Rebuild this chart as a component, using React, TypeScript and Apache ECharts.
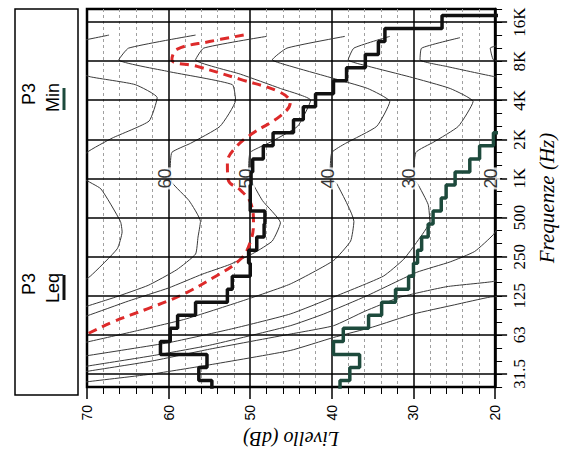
import React, { useEffect, useRef } from "react";
import * as echarts from "echarts";

// 1/3-octave band index: 0 = 25 Hz ... 29 = 20 kHz
const octaveIdx = [1, 4, 7, 10, 13, 16, 19, 22, 25, 28];
const octaveLabels = ["31.5", "63", "125", "250", "500", "1K", "2K", "4K", "8K", "16K"];
const allBandIdx = [0, 1, 2, 3, 4, 5, 6, 7, 8, 9, 10, 11, 12, 13, 14, 15, 16, 17, 18, 19, 20, 21, 22, 23, 24, 25, 26, 27, 28, 29];

// P3 Leq per band (dB), 25 Hz .. 20 kHz
const leqBands = [54.7, 56.3, 55.3, 61.0, 59.8, 58.9, 56.7, 52.8, 52.2, 50.0, 50.2, 49.2, 48.3, 48.2, 50.0, 50.0, 49.9, 49.7, 48.4, 47.2, 44.7, 43.5, 42.0, 39.8, 38.2, 35.9, 34.3, 33.5, 26.5, 18.0];
// P3 Min per band (dB), 25 Hz .. 2.5 kHz
const minBands = [39.0, 37.8, 36.6, 39.8, 38.6, 35.5, 33.9, 32.2, 30.6, 30.0, 29.5, 29.0, 28.2, 27.6, 26.6, 26.0, 24.9, 23.1, 21.9, 20.2, 18.0];

// red dashed curve [dB, band index]
const redCurve = [[50.8, 27.0], [55, 26.5], [59.0, 25.9], [59.6, 25.1], [56.5, 24.6], [51.2, 23.6], [46.3, 22.6], [45.1, 21.8], [46.3, 20.8], [49.6, 19.5], [51.6, 18.5], [52.8, 17.2], [52.7, 15.9], [51.2, 15.1], [50.0, 14.2], [49.6, 12.6], [50.0, 11.1], [51.2, 9.8], [54.5, 8.4], [58.6, 7.0], [62.6, 6.0], [66.8, 5.0], [70.0, 4.06], [71.5, 3.6]];

// equal-loudness contours [dB, band index]
const phon70 = [[67.3, 27.0], [72, 26.4], [75, 26.0], [76, 25.1], [72.5, 24.4], [69.6, 23.8], [64.1, 23.2], [61.4, 22.2], [62.4, 20.4], [66.9, 19.1], [70, 18.0], [71, 17], [70.4, 16], [68.3, 15.2], [65.9, 12.7], [65.7, 11.9], [66.3, 10.6], [69.6, 8.5], [72, 7.5]];
const phon60 = [[56.7, 27.0], [64.9, 26.0], [66.1, 25.1], [60.0, 24.2], [52.2, 23.2], [51.8, 22.0], [53.7, 20.0], [57.3, 18.7], [59.6, 18.0], [59.8, 16.7], [59.6, 15.7], [57.5, 14.3], [56.1, 12.7], [56.4, 11.5], [56.7, 10.2], [59.0, 9.0], [62.5, 7.8], [66.5, 6.9], [70, 6.2], [72, 5.8]];
const phon50 = [[48.0, 26.9], [55.7, 26.0], [56.7, 25.1], [51.2, 24.0], [46.3, 22.9], [42.6, 22.0], [44.2, 20.0], [47.8, 18.7], [50.0, 18.0], [50.2, 16.7], [50.0, 16.0], [48.5, 14.3], [46.3, 12.6], [47.3, 11.2], [49.5, 10.3], [52.5, 9.4], [55.9, 8.65], [60, 7.6], [64.9, 6.6], [70, 5.46], [72, 5.1]];
const phon40 = [[38.4, 26.9], [45.5, 26.0], [47.3, 25.1], [45, 24.6], [40.5, 23.8], [35.6, 22.9], [32.9, 21.9], [34.5, 20.0], [38.3, 18.7], [40.0, 18.0], [40.2, 16.7], [40.1, 16.0], [39.4, 15.6], [37.3, 12.7], [37.7, 11.2], [39.8, 9.7], [45.1, 7.9], [51, 6.6], [58, 5.2], [64, 4.3], [70, 3.45], [72, 3.2]];
const phon30 = [[32.9, 26.9], [37.3, 26.0], [38.0, 25.1], [35.5, 24.6], [30.5, 23.8], [25.5, 22.9], [22.7, 21.9], [24.5, 20.0], [27.5, 18.8], [29.7, 18.0], [30.0, 16.0], [29.5, 15.6], [28.2, 14.0], [28.0, 12.7], [29.5, 11.2], [31.2, 9.8], [33.7, 8.5], [39.8, 6.9], [45.1, 5.6], [52, 4.5], [60, 3.4], [70, 2.4], [72, 2.2]];
const phon20 = [[24.3, 26.8], [29.0, 26.0], [29.2, 25.1], [26, 24.6], [20, 23.8], [16, 23.4], [16, 17], [20.1, 16], [19.5, 14], [19.5, 12.5], [20.2, 11.7], [22.5, 10.4], [25.5, 9.6], [29.6, 8.8], [35.7, 7.0], [41, 5.6], [45.1, 4.7], [55, 3.2], [62, 2.4], [70, 1.6], [72, 1.4]];
const phon10 = [[18, 26.4], [20.6, 26.0], [20.2, 25.1], [18, 24.6], [18, 8.6], [20.2, 8.1], [25.9, 7.7], [31.6, 6.9], [36, 5.8], [39.8, 4.7], [45.1, 4.06], [55, 2.9], [62, 2.0], [70, 1.2], [72, 1.0]];
const phon0 = [[18, 7.0], [20.6, 6.9], [25, 6.3], [30.0, 5.6], [35, 4.6], [39.8, 3.8], [45.1, 2.8], [55, 1.7], [62, 1.0], [70, 0.4], [72, 0.25]];

const phonLevels = [60, 50, 40, 30, 20];
const phonLabelBand = 16;

function steps(values: number[]) {
  const pts: number[][] = [];
  values.forEach((v, i) => {
    pts.push([v, i - 0.5]);
    pts.push([v, i + 0.5]);
  });
  return pts;
}

export default function App() {
  const ref = useRef<HTMLDivElement>(null);
  useEffect(() => {
    if (!ref.current) return;
    const chart = echarts.init(ref.current, undefined, { renderer: "svg" });
    const curveStyle = { color: "#3a3a3a", width: 1 };
    const contours = [phon70, phon60, phon50, phon40, phon30, phon20, phon10, phon0];
    const option: any = {
      animation: false,
      backgroundColor: "#fff",
      grid: { left: 87, top: 9, width: 410, height: 378, show: true, borderColor: "#000", borderWidth: 2.5, backgroundColor: "transparent" },
      xAxis: {
        type: "value", min: 20, max: 70, interval: 10, inverse: true,
        axisLine: { show: true, onZero: false, lineStyle: { color: "#000", width: 2 } },
        axisTick: { show: true, length: 12, lineStyle: { color: "#000", width: 1.5 } },
        minorTick: { show: true, splitNumber: 5, length: 7, lineStyle: { color: "#000", width: 1 } },
        splitLine: { show: true, lineStyle: { color: "#000", width: 1.5 } },
        minorSplitLine: { show: true, lineStyle: { color: "#a0a0a0", width: 1, type: [3, 3] } },
        axisLabel: { rotate: 90, margin: 18, fontSize: 14, color: "#000", fontFamily: "Liberation Sans" },
        name: "Livello (dB)", nameLocation: "middle", nameRotate: 180, nameGap: 42,
        nameTextStyle: { fontFamily: "Liberation Serif", fontStyle: "italic", fontSize: 20, color: "#000" },
      },
      yAxis: [
        {
          type: "value", min: 0, max: 29, position: "right",
          axisLine: { show: true, onZero: false, lineStyle: { color: "#000", width: 2.5 } },
          axisTick: { show: true, length: 12, customValues: octaveIdx, lineStyle: { color: "#000", width: 1.5 } },
          axisLabel: {
            customValues: octaveIdx, rotate: 90, margin: 16, fontSize: 17, color: "#000", fontFamily: "Liberation Serif",
            formatter: (v: number) => { const k = octaveIdx.indexOf(Math.round(v)); return k >= 0 ? octaveLabels[k] : ""; },
          },
          splitLine: { show: false },
          name: "Frequenze (Hz)", nameLocation: "middle", nameRotate: 90, nameGap: 38,
          nameTextStyle: { fontFamily: "Liberation Serif", fontStyle: "italic", fontSize: 21, color: "#000" },
        },
        {
          type: "value", min: 0, max: 29, position: "right",
          axisLine: { show: false },
          axisTick: { show: true, length: 7, customValues: allBandIdx, lineStyle: { color: "#000", width: 1 } },
          axisLabel: { show: false },
          splitLine: { show: false },
        },
      ],
      series: [
        {
          type: "line", data: [], z: 1, silent: true,
          markLine: {
            silent: true, symbol: "none", label: { show: false },
            lineStyle: { color: "#000", width: 1.5, type: "solid" },
            data: octaveIdx.map((v) => ({ yAxis: v })),
          },
        },
        ...contours.map((c) => ({
          type: "line", data: c, showSymbol: false, symbol: "none", z: 2, silent: true,
          lineStyle: curveStyle, smooth: 0.15,
        })),
        {
          type: "scatter", z: 3, silent: true, symbolSize: 1, itemStyle: { color: "transparent" },
          data: phonLevels.map((p) => [p, phonLabelBand]),
          label: {
            show: true, position: "inside", rotate: 90, fontSize: 18, fontFamily: "Liberation Sans", color: "#000",
            backgroundColor: "#fff", padding: [0, 1], offset: [0, -4],
            formatter: (p: any) => String(p.value[0]),
          },
        },
        {
          type: "line", data: redCurve, showSymbol: false, symbol: "none", z: 4, smooth: 0.4, silent: true,
          lineStyle: { color: "#dd2a2a", width: 3, type: [9, 6] },
        },
        {
          name: "P3 Min", type: "line", data: steps(minBands), showSymbol: false, symbol: "none", z: 5, silent: true,
          lineStyle: { color: "#1d4a3c", width: 3.5 },
        },
        {
          name: "P3 Leq", type: "line", data: steps(leqBands), showSymbol: false, symbol: "none", z: 6, silent: true,
          lineStyle: { color: "#111", width: 3.5 },
        },
      ],
      graphic: [
        { type: "rect", shape: { x: 15, y: 9, width: 63, height: 386 }, style: { fill: "#fff", stroke: "#000", lineWidth: 1.5 } },
        { type: "text", x: 17, y: 83, rotation: Math.PI / 2, style: { text: "P3\nMin", font: '18px "Liberation Sans"', fill: "#000", align: "right", verticalAlign: "top", lineHeight: 24 } },
        { type: "line", shape: { x1: 64, y1: 88, x2: 64, y2: 110 }, style: { stroke: "#1d4a3c", lineWidth: 3 } },
        { type: "text", x: 17, y: 273, rotation: Math.PI / 2, style: { text: "P3\nLeq", font: '18px "Liberation Sans"', fill: "#000", align: "right", verticalAlign: "top", lineHeight: 24 } },
        { type: "line", shape: { x1: 64, y1: 275, x2: 64, y2: 300 }, style: { stroke: "#111", lineWidth: 3 } },
      ],
    };
    chart.setOption(option);
    return () => chart.dispose();
  }, []);
  return <div ref={ref} style={{ position: "absolute", left: 0, top: 0, width: 565, height: 461, background: "#fff" }} />;
}
